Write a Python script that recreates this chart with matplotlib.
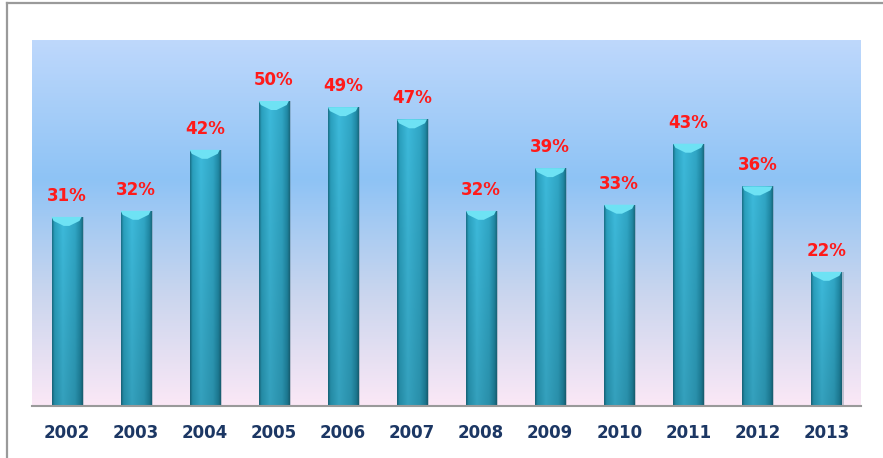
import numpy as np
import matplotlib
matplotlib.use("Agg")
import matplotlib.pyplot as plt
from matplotlib.colors import LinearSegmentedColormap, to_rgb
from matplotlib.patches import Polygon
from matplotlib.lines import Line2D

years = ["2002", "2003", "2004", "2005", "2006", "2007",
         "2008", "2009", "2010", "2011", "2012", "2013"]
share = [31, 32, 42, 50, 49, 47, 32, 39, 33, 43, 36, 22]

W, H, DPI = 883, 458, 100
fig = plt.figure(figsize=(W / DPI, H / DPI), dpi=DPI)
fig.patch.set_facecolor("white")

# plot area in pixels
left, right, top, base = 32, 861, 40, 406
ax = fig.add_axes([left / W, (H - base) / H, (right - left) / W, (base - top) / H])
ax.set_xlim(-0.5, len(years) - 0.5)

# background: light blue at top, stronger blue band, fading to pink
bg = LinearSegmentedColormap.from_list("bg", [
    (0.0, "#bed8fc"), (0.38, "#8ec3f5"), (0.7, "#cbd6ee"), (1.0, "#fbe8f6")])
grad = np.linspace(0, 1, 256).reshape(-1, 1)
ax.imshow(grad, cmap=bg, aspect="auto", extent=(-0.5, len(years) - 0.5, 0, 60),
          zorder=0, origin="upper")
ax.set_ylim(0, 60)

# horizontal shading across each bar
prof_pos = [0.0, 0.08, 0.35, 0.75, 0.92, 1.0]
prof_col = ["#1a7189", "#2aa0be", "#3dbadb", "#30a6c5", "#2089a5", "#1a6b80"]
xs = np.linspace(0, 1, 64)
row = np.array([np.interp(xs, prof_pos, [to_rgb(c)[k] for c in prof_col]) for k in range(3)]).T
vert = np.linspace(1.0, 0.86, 128).reshape(-1, 1, 1)
bar_img = np.clip(row[None, :, :] * vert, 0, 1)

width = 0.435
xpos = np.arange(len(years))
bars = ax.bar(xpos, share, width=width, color="none", edgecolor="none", zorder=2)

px = 60 / (base - top)  # data units per pixel
for b, v in zip(bars, share):
    x0 = b.get_x()
    x1 = x0 + b.get_width()
    xc = (x0 + x1) / 2
    # soft shadow on the right side
    ax.add_patch(plt.Rectangle((x1, 0), 0.03, v, color="#5b7d8c", alpha=0.35,
                               lw=0, zorder=1.5))
    im = ax.imshow(bar_img, extent=(x0, x1, 0, v), aspect="auto",
                   origin="upper", zorder=2.5)
    im.set_clip_path(b)
    # light cap at the top of the bar
    cap = Polygon([(x0, v), (x1, v), (x1 - 0.03, v - 4 * px),
                   (xc + 0.04, v - 9 * px), (xc - 0.04, v - 9 * px),
                   (x0 + 0.03, v - 4 * px)],
                  closed=True, fc="#6ee2f4", ec="none", zorder=3)
    ax.add_patch(cap)
    ax.text(xc, v + 21 * px, f"{v}%", ha="center", va="center",
            color="#ff1a1a", fontsize=12, fontweight="bold", zorder=4)

ax.set_xticks(xpos)
ax.set_xticklabels(years, fontsize=12, fontweight="bold", color="#1c3764")
ax.tick_params(axis="x", length=0, pad=13)
ax.set_yticks([])
for s in ["top", "right", "left"]:
    ax.spines[s].set_visible(False)
ax.spines["bottom"].set_color("#9a9a9a")
ax.spines["bottom"].set_linewidth(1.5)
ax.spines["bottom"].set_zorder(5)

# frame lines along the top and left edge
fig.add_artist(Line2D([6.5 / W, 1], [1 - 2.5 / H, 1 - 2.5 / H], color="#9a9a9a", lw=1.6))
fig.add_artist(Line2D([6.5 / W, 6.5 / W], [0, 1 - 2.5 / H], color="#9a9a9a", lw=1.6))

fig.savefig("out.png", dpi=DPI)
